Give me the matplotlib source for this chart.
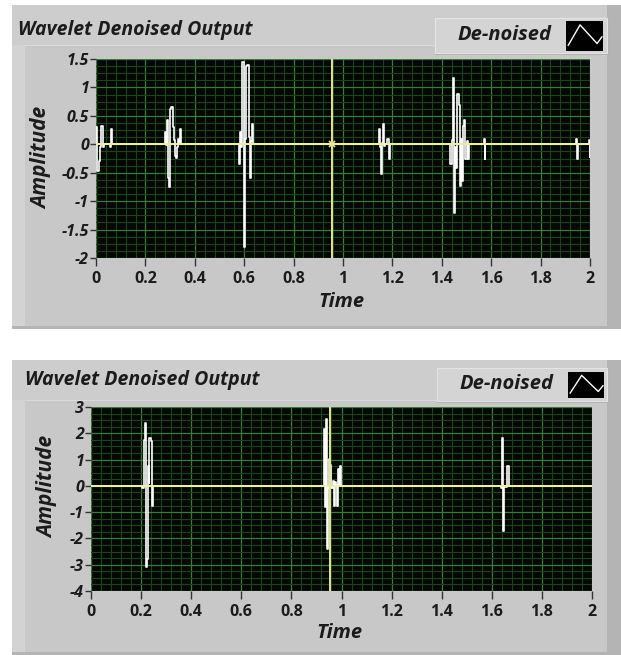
import matplotlib
matplotlib.use("Agg")
import matplotlib.pyplot as plt
from matplotlib.patches import Rectangle
from matplotlib.ticker import MultipleLocator

# ---------------- data ----------------
title_text = "Wavelet Denoised Output"
legend_text = "De-noised"
x_label = "Time"
y_label = "Amplitude"

x_ticks = [0, 0.2, 0.4, 0.6, 0.8, 1, 1.2, 1.4, 1.6, 1.8, 2]
x_tick_labels = ["0", "0.2", "0.4", "0.6", "0.8", "1", "1.2", "1.4", "1.6", "1.8", "2"]

top_y_ticks = [-2, -1.5, -1, -0.5, 0, 0.5, 1, 1.5]
top_y_labels = ["-2", "-1.5", "-1", "-0.5", "0", "0.5", "1", "1.5"]
bot_y_ticks = [-4, -3, -2, -1, 0, 1, 2, 3]
bot_y_labels = ["-4", "-3", "-2", "-1", "0", "1", "2", "3"]

top_time = [0.000, 0.002, 0.006, 0.011, 0.016, 0.022, 0.027, 0.032, 0.058, 0.061, 0.066,
            0.278, 0.283, 0.286, 0.291, 0.296, 0.300, 0.305, 0.310, 0.315, 0.319, 0.324,
            0.329, 0.333, 0.338, 0.342, 0.346,
            0.578, 0.583, 0.588, 0.593, 0.598, 0.603, 0.607, 0.613, 0.618, 0.622, 0.627,
            0.632, 0.636,
            1.146, 1.150, 1.153, 1.158, 1.163, 1.167, 1.172, 1.180, 1.185, 1.190,
            1.435, 1.440, 1.445, 1.450, 1.455, 1.458, 1.463, 1.468, 1.472, 1.476, 1.480,
            1.485, 1.490, 1.495, 1.500, 1.505, 1.512,
            1.570, 1.573, 1.576,
            1.945, 1.948, 1.951, 1.996, 1.999, 2.000]
top_amp = [0.00, 0.30, -0.47, -0.30, -0.05, 0.32, -0.05, 0.00, -0.05, 0.27, 0.00,
           0.21, -0.02, 0.43, -0.59, -0.75, 0.62, 0.66, 0.30, 0.07, -0.20, -0.24,
           -0.05, 0.10, 0.00, 0.27, 0.00,
           -0.35, 0.22, -0.05, 1.45, -1.80, 0.10, 1.38, 1.40, 0.12, -0.60, 0.05,
           0.35, 0.00,
           0.27, -0.05, -0.53, 0.02, 0.36, -0.03, 0.00, 0.09, -0.25, 0.00,
           -0.35, 0.07, 1.16, -1.21, -0.05, -0.41, 0.89, 0.69, -0.73, 0.09, -0.64,
           0.33, 0.42, -0.26, 0.05, -0.26, 0.00,
           0.09, -0.26, 0.00,
           0.10, -0.26, 0.00, 0.07, -0.23, 0.00]

bot_time = [0.000, 0.205, 0.210, 0.212, 0.216, 0.220, 0.223, 0.226, 0.230, 0.233, 0.238,
            0.242, 0.246,
            0.930, 0.935, 0.939, 0.943, 0.947, 0.951, 0.956, 0.960, 0.965, 0.969, 0.973,
            0.977, 0.981, 0.986, 0.991, 0.995, 0.999,
            1.638, 1.641, 1.645, 1.650, 1.660, 1.670, 2.000]
bot_amp = [0.00, -0.10, 0.05, 1.76, 2.40, -3.10, -2.80, 0.74, 0.10, 1.82, 1.70,
           -0.75, 0.00,
           2.18, -0.80, 2.56, -2.40, -0.10, 1.03, 0.78, -0.10, 0.20, -0.75, 0.14,
           0.05, -0.75, 0.65, 0.00, 0.74, 0.00,
           -0.10, 1.82, -1.70, -0.05, 0.76, 0.00, 0.00]

cursor_time = 0.955

# ---------------- layout helpers ----------------
W, H = 621, 655
fig = plt.figure(figsize=(W / 100, H / 100), dpi=100)
fig.patch.set_facecolor("white")


def frect(x0, y0, x1, y1, z=-10, **kw):
    r = Rectangle((x0 / W, 1 - y1 / H), (x1 - x0) / W, (y1 - y0) / H,
                  transform=fig.transFigure, figure=fig, zorder=z, **kw)
    fig.patches.append(r)


def ftext(x, y, s, **kw):
    fig.text(x / W, 1 - y / H, s, **kw)


TXT = "#1b1b1b"
FONT = ["Open Sans", "DejaVu Sans"]


def panel(top, bottom, ax_box, yticks, ylabels, ylim, ymajor, yminor,
          t, a, show_marker, title_xy, legend_box, icon_box, ylab_xy, xlab_y):
    # panel body
    frect(12, top, 621, bottom, facecolor="#b4b4b4", edgecolor="none", z=-12)
    frect(12, top, 607, bottom - 3, facecolor="#c8c8c8", edgecolor="none", z=-11)
    frect(12, top, 607, top + 40, facecolor="#cdcdcd", edgecolor="none", z=-10)
    frect(12, top + 40, 25, bottom - 3, facecolor="#d3d3d3", edgecolor="none", z=-10)
    frect(25, top + 40, 607, top + 41, facecolor="#dadada", edgecolor="none", z=-10)

    # title
    ftext(title_xy[0], title_xy[1], title_text, fontsize=14, fontweight="bold",
          fontstyle="italic", color=TXT, va="center", ha="left", family=FONT)

    # legend box
    lx0, ly0, lx1, ly1 = legend_box
    frect(lx0, ly0, lx1 + 2, ly1 + 2, facecolor="#b0b0b0", edgecolor="none", z=-9)
    frect(lx0, ly0, lx1, ly1, facecolor="#d4d4d4", edgecolor="#e4e4e4", lw=0.8, z=-8)
    ftext((lx0 + icon_box[0]) / 2 + 4, (ly0 + ly1) / 2, legend_text, fontsize=14.5,
          fontweight="bold", fontstyle="italic", color=TXT, va="center", ha="center",
          family=FONT)
    ix0, iy0, ix1, iy1 = icon_box
    iax = fig.add_axes([ix0 / W, 1 - iy1 / H, (ix1 - ix0) / W, (iy1 - iy0) / H])
    iax.set_facecolor("black")
    iax.plot([0.06, 0.38, 0.84, 0.97], [0.19, 0.87, 0.25, 0.47], color="white", lw=1.0)
    iax.set_xlim(0, 1)
    iax.set_ylim(0, 1)
    iax.set_xticks([])
    iax.set_yticks([])
    for s in iax.spines.values():
        s.set_visible(False)

    # plot axes
    x0, y0, x1, y1 = ax_box
    ax = fig.add_axes([x0 / W, 1 - y1 / H, (x1 - x0) / W, (y1 - y0) / H])
    ax.set_facecolor("#030803")
    ax.set_xlim(0, 2)
    ax.set_ylim(*ylim)
    ax.xaxis.set_major_locator(MultipleLocator(0.2))
    ax.xaxis.set_minor_locator(MultipleLocator(0.04))
    ax.yaxis.set_major_locator(MultipleLocator(ymajor))
    ax.yaxis.set_minor_locator(MultipleLocator(yminor))
    ax.grid(which="minor", color="#1d421d", lw=0.8)
    ax.grid(which="major", color="#3a7a3a", lw=0.9)
    ax.set_axisbelow(True)

    ax.step(t, a, where="post", color="white", lw=1.2, zorder=3)
    ax.axhline(0, color="#eef0a8", lw=1.4, zorder=4)
    ax.axvline(cursor_time, color="#e8e68c", lw=1.4, zorder=4)
    if show_marker:
        ax.plot([cursor_time], [0], marker="x", ms=5, color="#e8e68c", mew=1.2, zorder=5)

    ax.set_xticks(x_ticks)
    ax.set_xticklabels(x_tick_labels)
    ax.set_yticks(yticks)
    ax.set_yticklabels(ylabels)
    ax.tick_params(axis="x", which="major", direction="out", length=6, width=1,
                   color="#333333", pad=3, labelsize=11.5, labelcolor=TXT)
    ax.tick_params(axis="y", which="major", direction="out", length=4, width=1,
                   color="#333333", pad=1, labelsize=11.5, labelcolor=TXT)
    ax.tick_params(which="minor", length=0)
    for lab in ax.get_xticklabels():
        lab.set_fontweight("bold")
        lab.set_family(FONT)
    for lab in ax.get_yticklabels():
        lab.set_fontweight("bold")
        lab.set_fontstyle("italic")
        lab.set_family(FONT)
    for s in ax.spines.values():
        s.set_visible(False)

    ftext(ylab_xy[0], ylab_xy[1], y_label, rotation=90, fontsize=15, fontweight="bold",
          fontstyle="italic", color=TXT, va="center", ha="center", family=FONT)
    ftext((x0 + x1) / 2 - 2, xlab_y, x_label, fontsize=14.5, fontweight="bold",
          fontstyle="italic", color=TXT, va="center", ha="center", family=FONT)
    return ax


panel(5, 329, (96, 59, 590, 258), top_y_ticks, top_y_labels, (-2, 1.5), 0.5, 0.125,
      top_time, top_amp, True, (18, 30), (435, 18, 607, 53), (566, 21, 603, 51),
      (42, 158), 302)

panel(360, 655, (91, 407, 592, 591), bot_y_ticks, bot_y_labels, (-4, 3), 1, 0.25,
      bot_time, bot_amp, False, (25, 380), (437, 368, 607, 401), (568, 372, 604, 398),
      (48, 487), 633)

fig.savefig("out.png", dpi=100)
